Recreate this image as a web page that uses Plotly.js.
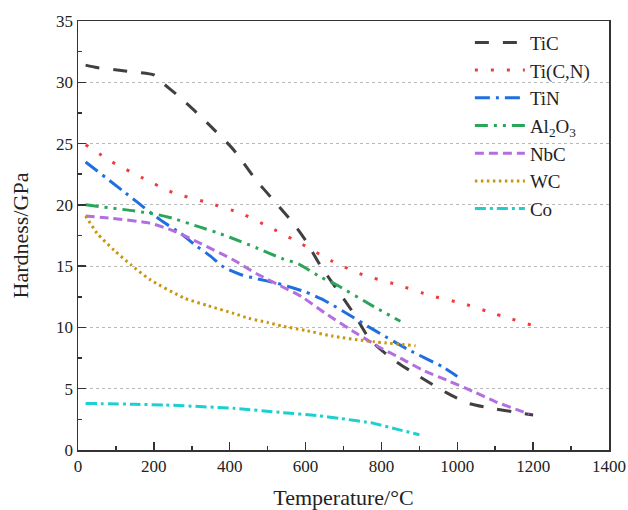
<!DOCTYPE html>
<html>
<head>
<meta charset="utf-8">
<script src="https://cdn.plot.ly/plotly-3.0.1.min.js"></script>
<style>html,body{margin:0;padding:0;background:#fff;}</style>
</head>
<body>
<div id="chart" style="width:628px;height:510px;"></div>
<script>
// Data
const TiC_x = [20, 50, 130, 200, 225, 260, 300, 360, 410, 470, 515, 570, 600, 640, 690, 730, 770, 830, 900, 970, 1030, 1100, 1150, 1200];
const TiC_y = [31.4, 31.2, 30.9, 30.6, 29.9, 29.0, 27.9, 26.1, 24.5, 22.0, 20.4, 18.4, 17.1, 15.0, 12.8, 11.0, 9.0, 7.4, 6.0, 4.7, 3.8, 3.35, 3.1, 2.85];

const TiCN_x = [20, 90, 170, 250, 340, 430, 510, 590, 670, 750, 840, 930, 1020, 1100, 1200];
const TiCN_y = [24.9, 23.5, 22.2, 21.0, 20.2, 19.3, 18.1, 16.8, 15.4, 14.3, 13.5, 12.6, 11.9, 11.1, 10.15];

const TiN_x = [20, 120, 190, 225, 270, 310, 350, 385, 430, 475, 525, 570, 600, 650, 700, 780, 870, 960, 1000];
const TiN_y = [23.5, 21.1, 19.4, 18.6, 17.7, 16.7, 15.8, 14.9, 14.3, 13.95, 13.6, 13.2, 12.9, 12.2, 11.3, 9.8, 8.2, 6.8, 6.0];

const Al2O3_x = [20, 150, 210, 250, 320, 370, 430, 470, 540, 580, 640, 680, 780, 850];
const Al2O3_y = [20.0, 19.5, 19.2, 18.9, 18.2, 17.7, 17.0, 16.5, 15.6, 15.2, 14.1, 13.5, 11.7, 10.5];

const NbC_x = [20, 90, 190, 250, 320, 410, 470, 540, 590, 650, 735, 800, 850, 910, 980, 1040, 1100, 1170, 1190];
const NbC_y = [19.1, 18.9, 18.5, 17.9, 16.9, 15.5, 14.4, 13.3, 12.5, 11.2, 9.5, 8.3, 7.5, 6.5, 5.6, 4.8, 3.95, 3.15, 2.95];

const WC_x = [20, 50, 95, 140, 190, 280, 340, 410, 450, 500, 540, 600, 670, 760, 890];
const WC_y = [19.1, 17.7, 16.3, 15.1, 13.9, 12.4, 11.8, 11.15, 10.75, 10.4, 10.1, 9.75, 9.3, 8.9, 8.5];

const Co_x = [20, 150, 230, 410, 540, 630, 690, 780, 840, 900];
const Co_y = [3.8, 3.73, 3.67, 3.4, 3.05, 2.8, 2.58, 2.17, 1.7, 1.25];

const xTicks = [0, 200, 400, 600, 800, 1000, 1200, 1400];
const yTicks = [0, 5, 10, 15, 20, 25, 30, 35];

const FONT = "'Liberation Serif', 'Times New Roman', serif";

function tr(name, x, y, color, dash) {
  return {x: x, y: y, name: name, type: 'scatter', mode: 'lines',
          line: {color: color, width: 3, dash: dash, shape: 'spline', smoothing: 0.6}};
}

const data = [
  tr('TiC', TiC_x, TiC_y, '#404040', '14px,14px'),
  tr('Ti(C,N)', TiCN_x, TiCN_y, '#f03c3c', '3px,13px'),
  tr('TiN', TiN_x, TiN_y, '#1f6fe0', '15px,6px,3px,6px'),
  tr('Al<sub>2</sub>O<sub>3</sub>', Al2O3_x, Al2O3_y, '#2aa65a', '13px,6px,3px,6px,3px,6px'),
  tr('NbC', NbC_x, NbC_y, '#b36ee0', '9px,5px'),
  tr('WC', WC_x, WC_y, '#c9950c', '2.5px,3.5px'),
  tr('Co', Co_x, Co_y, '#1ecfcf', '11px,4px,3px,4px')
];

function axis(extra) {
  return Object.assign({
    showline: true, mirror: true, linecolor: '#333', linewidth: 1.5,
    ticks: 'inside', ticklen: 8, tickwidth: 1.5, tickcolor: '#333',
    tickfont: {family: FONT, size: 17, color: '#222'},
    zeroline: false
  }, extra);
}

const layout = {
  width: 628, height: 510,
  margin: {l: 78, r: 19, t: 21, b: 60},
  paper_bgcolor: '#fff', plot_bgcolor: '#fff',
  font: {family: FONT, color: '#222', size: 17},
  showlegend: true,
  legend: {x: 0.738, y: 0.994, xanchor: 'left', yanchor: 'top', itemwidth: 50,
           bgcolor: 'rgba(0,0,0,0)', font: {family: FONT, size: 19, color: '#222'}},
  xaxis: axis({
    range: [0, 1400], tickvals: xTicks, ticktext: xTicks.map(String),
    showgrid: false,
    minor: {tickvals: [100, 300, 500, 700, 900, 1100, 1300], ticks: 'inside', ticklen: 4, tickwidth: 1.5, tickcolor: '#333', showgrid: false},
    title: {text: 'Temperature/°C', font: {family: FONT, size: 22, color: '#222'}, standoff: 17}
  }),
  yaxis: axis({
    range: [0, 35], tickvals: yTicks, ticktext: yTicks.map(String),
    showgrid: true, gridcolor: '#b8b8b8', gridwidth: 1, griddash: '3px,3px',
    minor: {tickvals: [2.5, 7.5, 12.5, 17.5, 22.5, 27.5, 32.5], ticks: 'inside', ticklen: 4, tickwidth: 1.5, tickcolor: '#333', showgrid: false},
    title: {text: 'Hardness/GPa', font: {family: FONT, size: 22, color: '#222'}, standoff: 21}
  })
};

Plotly.newPlot('chart', data, layout, {displayModeBar: false, staticPlot: true});
</script>
</body>
</html>
